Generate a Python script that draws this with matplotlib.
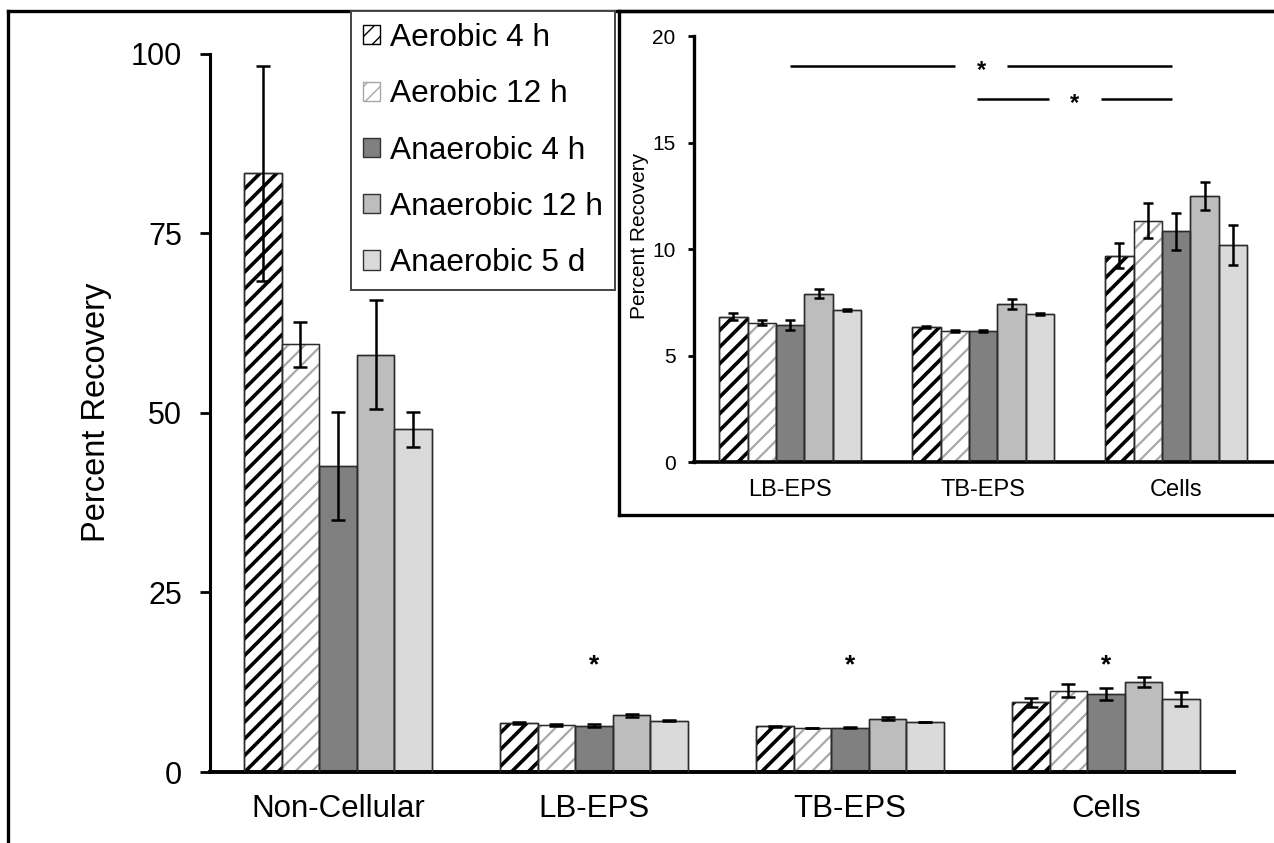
import matplotlib

matplotlib.use("Agg")
import matplotlib.pyplot as plt
import numpy as np
from matplotlib.lines import Line2D

plt.rcParams["font.family"] = ["Liberation Sans", "DejaVu Sans"]

# ---- data ----
categories = ["Non-Cellular", "LB-EPS", "TB-EPS", "Cells"]
series = ["Aerobic 4 h", "Aerobic 12 h", "Anaerobic 4 h", "Anaerobic 12 h", "Anaerobic 5 d"]

aerobic_4h = [83.3, 6.84, 6.34, 9.70]
aerobic_12h = [59.5, 6.55, 6.16, 11.34]
anaerobic_4h = [42.6, 6.45, 6.18, 10.83]
anaerobic_12h = [58.1, 7.90, 7.43, 12.50]
anaerobic_5d = [47.7, 7.15, 6.96, 10.20]

aerobic_4h_err = [15.0, 0.16, 0.06, 0.60]
aerobic_12h_err = [3.2, 0.12, 0.03, 0.84]
anaerobic_4h_err = [7.5, 0.22, 0.05, 0.85]
anaerobic_12h_err = [7.6, 0.21, 0.22, 0.66]
anaerobic_5d_err = [2.45, 0.05, 0.03, 0.95]

main_star_y = 15.3                       # "*" above LB-EPS, TB-EPS, Cells
inset_brackets = [(0.0, 1.98, 18.6), (0.97, 1.98, 17.05)]   # (x0, x1, y) in inset coords

values = [aerobic_4h, aerobic_12h, anaerobic_4h, anaerobic_12h, anaerobic_5d]
errors = [aerobic_4h_err, aerobic_12h_err, anaerobic_4h_err, anaerobic_12h_err, anaerobic_5d_err]

# ---- styles ----
faces = ["white", "white", "#808080", "#bdbdbd", "#dadada"]
hatches = ["//", "//", None, None, None]
hatch_cols = ["black", "#a8a8a8", "#333333", "#333333", "#333333"]
hatch_lws = [2.6, 1.6, 1.0, 1.0, 1.0]
BAR_W = 0.147
W, H = 1274, 843


def draw_bars(ax, idx, capsize, elw):
    x = np.arange(len(idx))
    handles = []
    for i in range(len(series)):
        xs = x + (i - 2) * BAR_W
        ys = [values[i][j] for j in idx]
        es = [errors[i][j] for j in idx]
        bars = ax.bar(xs, ys, BAR_W, color=faces[i], edgecolor=hatch_cols[i],
                      hatch=hatches[i], linewidth=1.0, zorder=2)
        for p in bars:
            if hasattr(p, "set_hatch_linewidth"):
                p.set_hatch_linewidth(hatch_lws[i])
        ax.bar(xs, ys, BAR_W, fill=False, edgecolor="#2b2b2b", linewidth=1.0, zorder=3)
        ax.errorbar(xs, ys, yerr=es, fmt="none", ecolor="black", elinewidth=elw,
                    capsize=capsize, capthick=elw, zorder=4)
        handles.append(bars)
    return handles


def star(ax, x, y, size):
    # the asterisk glyph sits high in its box, so anchor it on the baseline
    ax.annotate("*", (x, y), xytext=(0, -0.4 * size), textcoords="offset points",
                ha="center", va="baseline", fontsize=size, fontweight="bold")


fig = plt.figure(figsize=(W / 100, H / 100), dpi=100)

# main axes
ax = fig.add_axes([210 / W, 1 - 772 / H, 1024 / W, 718.5 / H])
handles = draw_bars(ax, [0, 1, 2, 3], capsize=5, elw=1.8)
ax.set_xlim(-0.5, 3.5)
ax.set_ylim(0, 100)
ax.set_yticks([0, 25, 50, 75, 100])
ax.set_xticks(range(4))
ax.set_xticklabels(categories)
ax.tick_params(axis="y", labelsize=22, length=7, width=2, pad=13)
ax.tick_params(axis="x", labelsize=22.5, length=0, pad=16)
for s in ["top", "right"]:
    ax.spines[s].set_visible(False)
ax.spines["left"].set_linewidth(2.2)
ax.spines["bottom"].set_linewidth(2.8)
ax.set_ylabel("Percent Recovery", fontsize=23.5)
ax.yaxis.set_label_coords(-0.096, 0.5)
for j in range(1, 4):
    star(ax, j, main_star_y, 19)

# inset frame
box = fig.add_axes([618.7 / W, 1 - 515 / H, 1 - 618.7 / W, 504 / H])
box.set_xticks([])
box.set_yticks([])
box.spines["right"].set_visible(False)
for s in ["top", "left", "bottom"]:
    box.spines[s].set_linewidth(2.4)

# inset axes
ins = fig.add_axes([693.7 / W, 1 - 462.3 / H, 579 / W, 426.3 / H])
draw_bars(ins, [1, 2, 3], capsize=3.5, elw=1.8)
ins.set_xlim(-0.5, 2.5)
ins.set_ylim(0, 20)
ins.set_yticks([0, 5, 10, 15, 20])
ins.set_xticks(range(3))
ins.set_xticklabels(categories[1:])
ins.tick_params(axis="y", labelsize=15, length=4, width=2, pad=9)
ins.tick_params(axis="x", labelsize=17, length=0, pad=12)
ins.patch.set_alpha(0)
for s in ["top", "right"]:
    ins.spines[s].set_visible(False)
ins.spines["left"].set_linewidth(2.4)
ins.spines["bottom"].set_linewidth(2.6)
ins.set_ylabel("Percent Recovery", fontsize=15)
ins.yaxis.set_label_coords(-0.078, 0.53)
for x0, x1, y in inset_brackets:
    mid = (x0 + x1) / 2
    ins.plot([x0, mid - 0.135], [y, y], color="black", lw=1.8, solid_capstyle="butt")
    ins.plot([mid + 0.135, x1], [y, y], color="black", lw=1.8, solid_capstyle="butt")
    star(ins, mid, y - 0.1, 17)

# legend
leg = fig.legend(handles, series, loc="upper left", bbox_to_anchor=(351 / W, 1 - 11 / H),
                 bbox_transform=fig.transFigure, borderaxespad=0, fancybox=False,
                 edgecolor="#444444", framealpha=1, fontsize=22.8, handlelength=0.55,
                 handleheight=0.55, handletextpad=0.3, labelspacing=0.83, borderpad=0.38)
leg.get_frame().set_linewidth(1.4)

# outer figure border (left and top edges are visible)
fig.add_artist(Line2D([8 / W, 8 / W], [0, 1 - 11 / H], transform=fig.transFigure,
                      color="black", lw=2.4))
fig.add_artist(Line2D([8 / W, 1], [1 - 11 / H, 1 - 11 / H], transform=fig.transFigure,
                      color="black", lw=2.4))

fig.savefig("out.png", dpi=100)
